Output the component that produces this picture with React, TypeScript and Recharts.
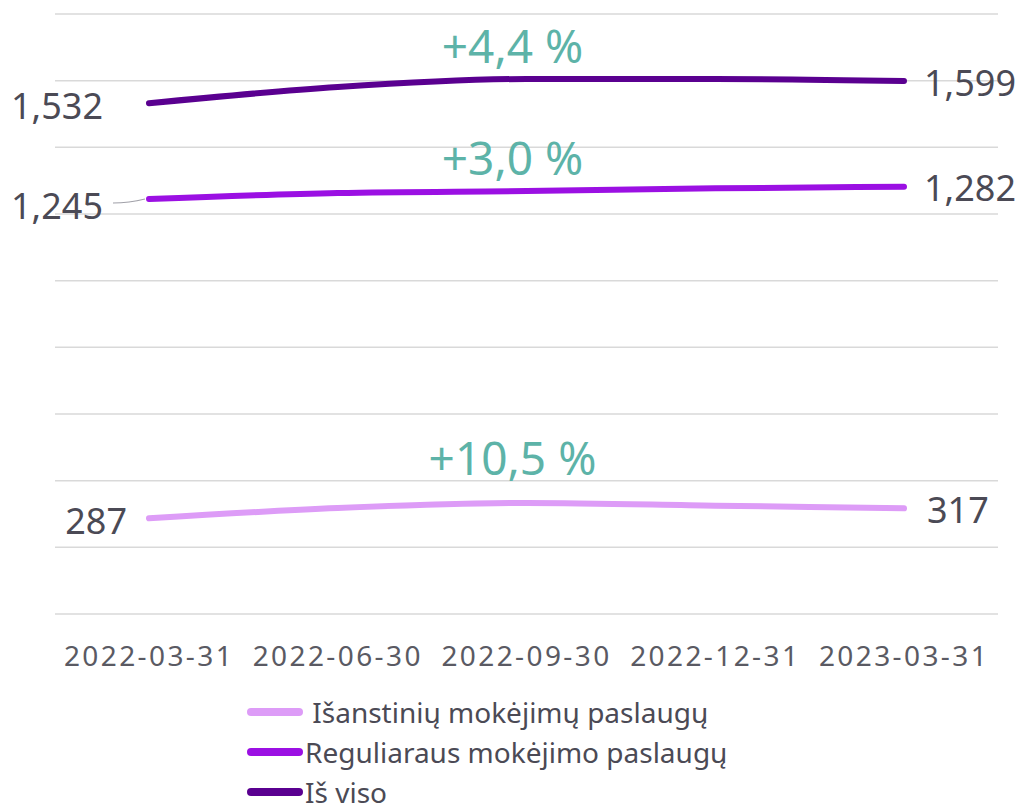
import { CartesianGrid, LabelList, Legend, Line, LineChart, XAxis, YAxis } from "recharts";

const dates = ["2022-03-31", "2022-06-30", "2022-09-30", "2022-12-31", "2023-03-31"];
const instantValues = [287, 318, 333, 325, 317];
const regularValues = [1245, 1263, 1269, 1277, 1282];
const totalValues = [1532, 1581, 1605, 1605, 1599];
const growthLabels = { instant: "+10,5 %", regular: "+3,0 %", total: "+4,4 %" };
const yTicks = [0, 200, 400, 600, 800, 1000, 1200, 1400, 1600, 1800];

const series = [
  { key: "instant", name: " Išanstinių mokėjimų paslaugų", color: "#dd9cf7", left: 22, right: 23, growthDy: -46, leader: false },
  { key: "regular", name: "Reguliaraus mokėjimo paslaugų", color: "#9b10e3", left: 46, right: 20, growthDy: -34, leader: true },
  { key: "total", name: "Iš viso", color: "#5a0090", left: 46, right: 20, growthDy: -34, leader: false },
] as const;

const data = dates.map((date, i) => ({
  date,
  instant: instantValues[i],
  regular: regularValues[i],
  total: totalValues[i],
}));

const FONT = "'Noto Sans', sans-serif";
const TEXT = "#4b4a55";
const TEAL = "#5db3a8";

function EndLabel(props: any) {
  const { x, y, index, value, cfg } = props;
  const last = dates.length - 1;
  if (index !== 0 && index !== last) return null;
  const text = Number(value).toLocaleString("en-US");
  if (index === 0) {
    const dy = cfg.leader ? 6 : 2;
    return (
      <g>
        {cfg.leader && (
          <path d={`M ${x - 4} ${y} Q ${x - 20} ${y + 4} ${x - cfg.left + 10} ${y + 4}`} stroke="#a0a0a8" strokeWidth={1.2} fill="none" />
        )}
        <text x={x - cfg.left} y={y + dy} textAnchor="end" dominantBaseline="central" fontSize={36} fill={TEXT} fontFamily={FONT}>
          {text}
        </text>
      </g>
    );
  }
  return (
    <text x={x + cfg.right} y={y + 1} textAnchor="start" dominantBaseline="central" fontSize={36} fill={TEXT} fontFamily={FONT}>
      {text}
    </text>
  );
}

function GrowthLabel(props: any) {
  const { x, y, index, cfg } = props;
  if (index !== 2) return null;
  return (
    <text x={x - 14} y={y + cfg.growthDy} textAnchor="middle" dominantBaseline="central" fontSize={46} fill={TEAL} fontFamily={FONT}>
      {growthLabels[cfg.key as keyof typeof growthLabels]}
    </text>
  );
}

function LegendContent() {
  return (
    <div style={{ fontFamily: FONT, fontSize: 28, color: TEXT, lineHeight: "40px" }}>
      {series.map((s) => (
        <div key={s.key} style={{ display: "flex", alignItems: "center", whiteSpace: "pre", height: 40 }}>
          <svg width={58} height={12} style={{ marginRight: 1 }}>
            <line x1={5} y1={6} x2={53} y2={6} stroke={s.color} strokeWidth={8} strokeLinecap="round" />
          </svg>
          <span>{s.name}</span>
        </div>
      ))}
    </div>
  );
}

export default function App() {
  return (
    <div style={{ position: "absolute", left: 0, top: 0, background: "#fff" }}>
      <LineChart width={1020} height={807} data={data} margin={{ top: 14, right: 22, bottom: 162, left: 55 }}>
        <CartesianGrid vertical={false} stroke="#d9d9d9" strokeWidth={1.5} />
        <XAxis
          dataKey="date"
          axisLine={false}
          tickLine={false}
          padding={{ left: 94, right: 94 }}
          interval={0}
          tick={{ fill: "#5a5a63", fontSize: 28, fontFamily: FONT, letterSpacing: 2.4 }}
          tickMargin={26}
        />
        <YAxis hide domain={[0, 1800]} ticks={yTicks} />
        <Legend
          verticalAlign="bottom"
          content={<LegendContent />}
          wrapperStyle={{ position: "absolute", left: 246, top: 692, width: 600, height: 1, overflow: "visible" }}
        />
        {series.map((s) => (
          <Line
            key={s.key}
            dataKey={s.key}
            name={s.name}
            type="monotone"
            stroke={s.color}
            strokeWidth={6}
            strokeLinecap="round"
            dot={false}
            activeDot={false}
            isAnimationActive={false}
          >
            <LabelList dataKey={s.key} content={(p: any) => <EndLabel {...p} cfg={s} />} />
            <LabelList dataKey={s.key} content={(p: any) => <GrowthLabel {...p} cfg={s} />} />
          </Line>
        ))}
      </LineChart>
    </div>
  );
}
